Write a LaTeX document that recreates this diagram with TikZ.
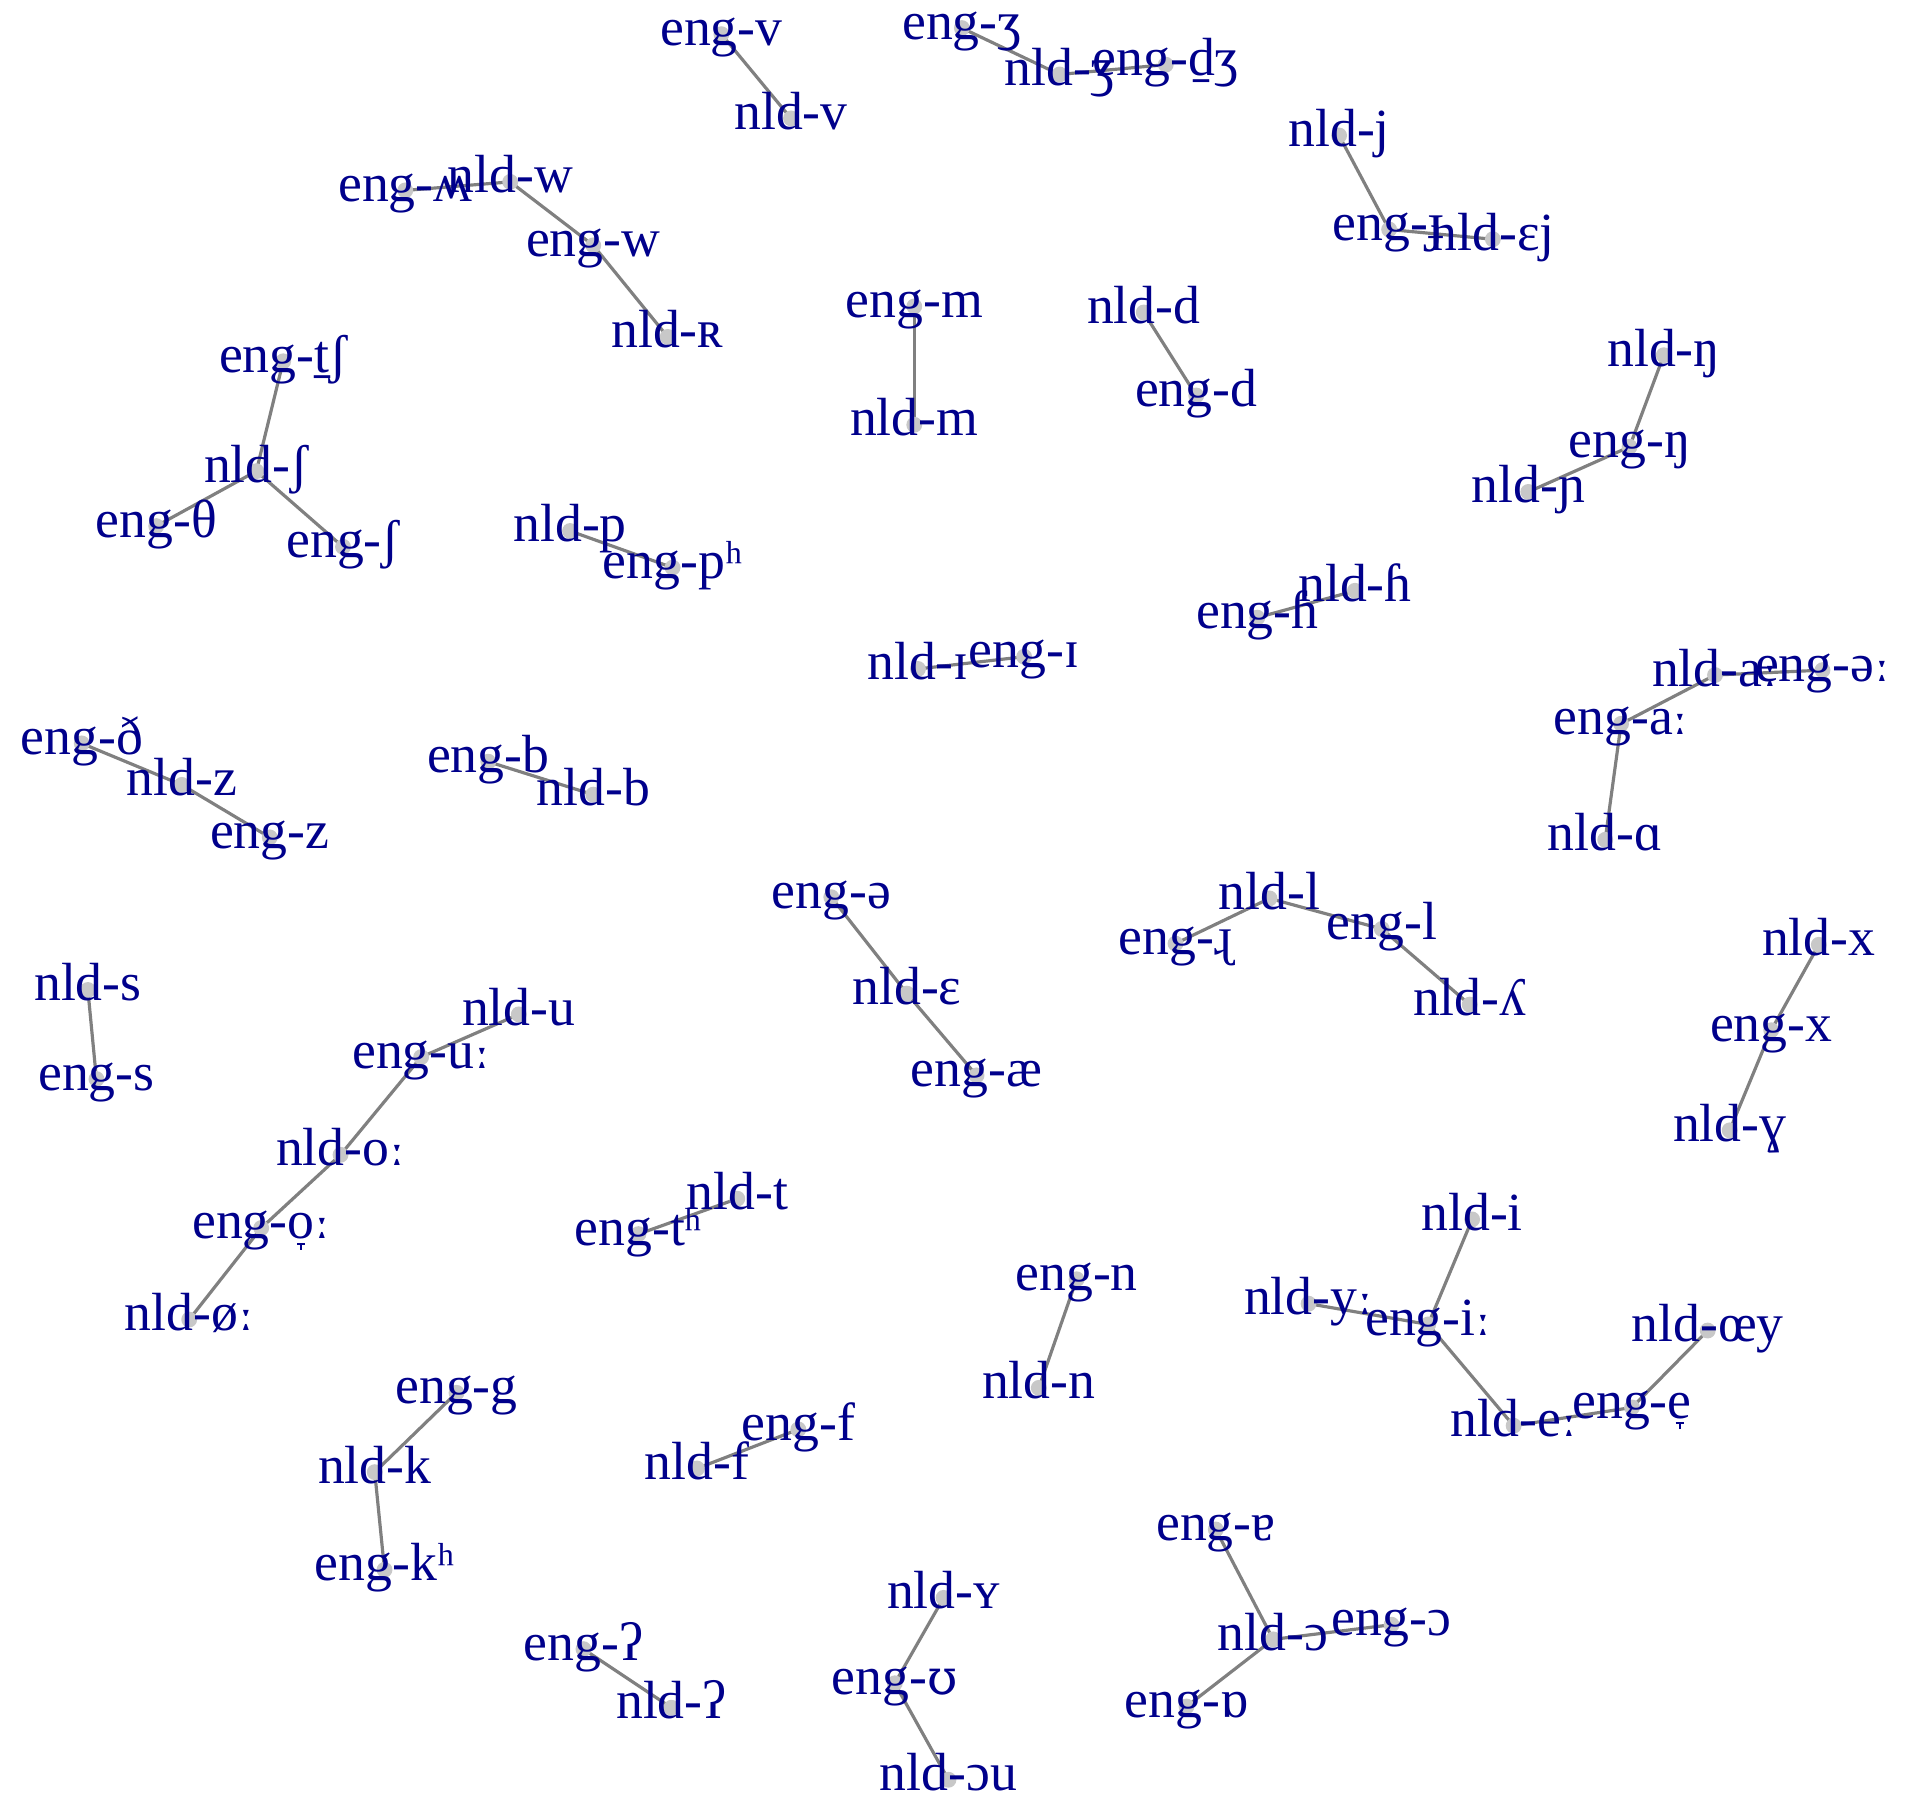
\documentclass[tikz,border=0pt]{standalone}
\usepackage{fontspec}
\setmainfont{Liberation Serif}
\newfontfamily\phonalt{DejaVu Serif}
\definecolor{labblue}{RGB}{0,0,139}
\definecolor{edgegray}{RGB}{128,128,128}
\definecolor{dotgray}{RGB}{200,200,200}
\newcommand\phondtack[1]{\ooalign{#1\cr\hidewidth\raisebox{-0.11em}{\rule{0.15em}{0.04em}}\hidewidth\cr\hidewidth\raisebox{-0.20em}{\rule{0.04em}{0.10em}}\hidewidth\cr}}
\newcommand\phonlong{{\phonalt\fontsize{38}{40}\selectfont ː}}
\newcommand\phonlist[1]{%
#1{engv}{591}{37}{eng-v}%
#1{nldv}{648}{106}{nld-v}%
#1{engzh}{788}{32}{eng-ʒ}%
#1{nldzh}{868}{70}{nld-ʒ}%
#1{engdzh}{955}{62}{eng-d̠ʒ}%
#1{engwh}{332}{165}{eng-ʍ}%
#1{nldw}{418}{158}{nld-w}%
#1{engw}{486}{210}{eng-w}%
#1{nldR}{547}{285}{nld-ʀ}%
#1{nldj}{1097}{120}{nld-j}%
#1{engJ}{1138}{197}{eng-ɟ}%
#1{nldej}{1223}{205}{nld-ɛj}%
#1{engm}{749}{260}{eng-m}%
#1{nldm}{749}{357}{nld-m}%
#1{nldd}{937}{265}{nld-d}%
#1{engd}{980}{333}{eng-d}%
#1{nldng}{1363}{300}{nld-ŋ}%
#1{engng}{1335}{375}{eng-ŋ}%
#1{nldny}{1252}{412}{nld-ɲ}%
#1{engtsh}{232}{305}{eng-t̠ʃ}%
#1{nldsh}{210}{395}{nld-ʃ}%
#1{ength}{128}{440}{eng-θ}%
#1{engsh}{281}{457}{eng-ʃ}%
#1{nldp}{467}{444}{nld-p}%
#1{engph}{551}{474}{eng-pʰ}%
#1{nldh}{1110}{493}{nld-ɦ}%
#1{engh}{1030}{515}{eng-ɦ}%
#1{nldI}{752}{557}{nld-ɪ}%
#1{engI}{839}{547}{eng-ɪ}%
#1{nldaa}{1405}{562}{nld-a\phonlong}%
#1{engschwa}{1493}{558}{eng-ə\phonlong}%
#1{engaa}{1328}{602}{eng-a\phonlong}%
#1{nldA}{1315}{697}{nld-ɑ}%
#1{engdh}{67}{618}{eng-ð}%
#1{nldz}{149}{652}{nld-z}%
#1{engz}{221}{695}{eng-z}%
#1{engb}{400}{633}{eng-b}%
#1{nldb}{486}{660}{nld-b}%
#1{engE}{681}{744}{eng-ə}%
#1{nldE}{743}{823}{nld-ɛ}%
#1{engae}{800}{890}{eng-æ}%
#1{nldl}{1040}{745}{nld-l}%
#1{engrr}{963}{782}{eng-ɻ}%
#1{engl}{1132}{770}{eng-l}%
#1{nldly}{1204}{832}{nld-ʎ}%
#1{nldx}{1490}{783}{nld-x}%
#1{engx}{1451}{853}{eng-x}%
#1{nldG}{1417}{935}{nld-ɣ}%
#1{nlds}{72}{820}{nld-s}%
#1{engs}{79}{893}{eng-s}%
#1{nldu}{425}{840}{nld-u}%
#1{enguu}{345}{875}{eng-u\phonlong}%
#1{nldoo}{279}{955}{nld-o\phonlong}%
#1{engoo}{214}{1015}{eng-\phondtack{o}\phonlong}%
#1{nldoe}{155}{1090}{nld-ø\phonlong}%
#1{nldt}{604}{991}{nld-t}%
#1{engtt}{523}{1020}{eng-tʰ}%
#1{engn}{882}{1057}{eng-n}%
#1{nldn}{851}{1146}{nld-n}%
#1{nldi}{1206}{1008}{nld-i}%
#1{nldyy}{1072}{1077}{nld-y\phonlong}%
#1{engii}{1170}{1094}{eng-i\phonlong}%
#1{nldoey}{1399}{1099}{nld-œy}%
#1{nldee}{1240}{1177}{nld-e\phonlong}%
#1{enge}{1337}{1162}{eng-\phondtack{e}}%
#1{engg}{374}{1150}{eng-g}%
#1{nldk}{307}{1215}{nld-k}%
#1{engkh}{315}{1295}{eng-kʰ}%
#1{nldf}{571}{1212}{nld-f}%
#1{engf}{654}{1180}{eng-f}%
#1{engtA}{996}{1262}{eng-ɐ}%
#1{nldO}{1043}{1352}{nld-ɔ}%
#1{engO}{1140}{1340}{eng-ɔ}%
#1{engQ}{972}{1407}{eng-ɒ}%
#1{enggs}{478}{1360}{eng-ʔ}%
#1{nldgs}{550}{1408}{nld-ʔ}%
#1{nldY}{773}{1318}{nld-ʏ}%
#1{engU}{733}{1388}{eng-{\phonalt\fontsize{40}{44}\selectfont ʊ}}%
#1{nldOu}{777}{1467}{nld-ɔu}%
}
\newcommand\phoncoord[4]{\coordinate (#1) at (#2,#3-9);}
\newcommand\phondot[4]{\fill[dotstyle] (#1) circle (6.5);}
\newcommand\phonlabel[4]{\node[labstyle] (#1-t) at (#2,#3) {#4};}
\tikzset{
  edgestyle/.style={draw=edgegray, line width=2.6pt},
  dotstyle/.style={fill=dotgray},
  labstyle/.style={anchor=base, inner sep=0pt, text=labblue,
    font=\fontsize{44}{48}\selectfont}
}
\begin{document}
\begin{tikzpicture}[x=1pt,y=-1pt]
\useasboundingbox (0,0) rectangle (1568,1477);
\phonlist\phoncoord
\foreach \a/\b in {engv/nldv, engzh/nldzh, nldzh/engdzh, engwh/nldw, nldw/engw,
  engw/nldR, nldj/engJ, engJ/nldej, engm/nldm, nldd/engd, nldng/engng,
  engng/nldny, engtsh/nldsh, nldsh/ength, nldsh/engsh, nldp/engph, engh/nldh,
  nldI/engI, nldaa/engschwa, nldaa/engaa, engaa/nldA, engdh/nldz, nldz/engz,
  engb/nldb, engE/nldE, nldE/engae, engrr/nldl, nldl/engl, engl/nldly,
  nldx/engx, engx/nldG, nlds/engs, nldu/enguu, enguu/nldoo, nldoo/engoo,
  engoo/nldoe, nldt/engtt, engn/nldn, nldi/engii, nldyy/engii, engii/nldee,
  nldee/enge, enge/nldoey, engg/nldk, nldk/engkh, nldf/engf, engtA/nldO,
  nldO/engO, nldO/engQ, enggs/nldgs, nldY/engU, engU/nldOu}
  \draw[edgestyle] (\a) -- (\b);
\phonlist\phondot
\phonlist\phonlabel
\end{tikzpicture}
\end{document}
